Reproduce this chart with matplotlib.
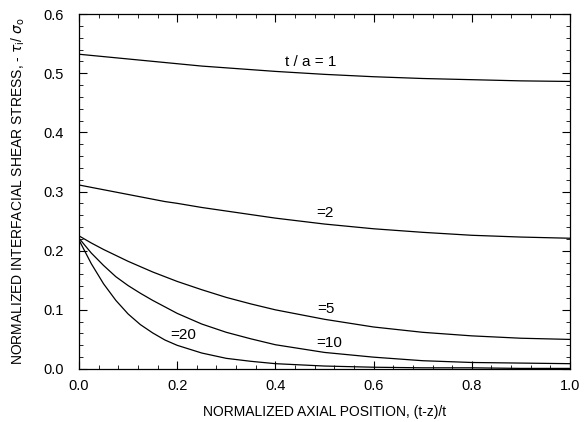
import matplotlib
matplotlib.use("Agg")
import matplotlib.pyplot as plt
from matplotlib.ticker import MultipleLocator, FormatStrFormatter

plt.rcParams['font.family'] = ['Liberation Sans', 'DejaVu Sans']

# axial position (t-z)/t
pos = [0, 0.025, 0.05, 0.075, 0.1, 0.125, 0.15, 0.175, 0.2, 0.25, 0.3, 0.35, 0.4, 0.5, 0.6, 0.7, 0.8, 0.9, 1.0]

# normalized interfacial shear stress for each t/a
stress_1 = [0.532, 0.530, 0.528, 0.526, 0.524, 0.522, 0.520, 0.518, 0.516, 0.512, 0.509, 0.506, 0.503, 0.498, 0.494, 0.491, 0.489, 0.487, 0.486]
stress_2 = [0.311, 0.307, 0.303, 0.299, 0.295, 0.291, 0.287, 0.283, 0.280, 0.273, 0.267, 0.261, 0.255, 0.245, 0.237, 0.231, 0.226, 0.223, 0.221]
stress_5 = [0.225, 0.213, 0.202, 0.192, 0.182, 0.173, 0.164, 0.156, 0.148, 0.134, 0.121, 0.110, 0.100, 0.084, 0.071, 0.062, 0.056, 0.052, 0.050]
stress_10 = [0.221, 0.196, 0.175, 0.156, 0.141, 0.128, 0.116, 0.105, 0.094, 0.076, 0.062, 0.051, 0.041, 0.028, 0.020, 0.014, 0.011, 0.010, 0.009]
stress_20 = [0.218, 0.178, 0.144, 0.116, 0.093, 0.075, 0.061, 0.049, 0.040, 0.027, 0.018, 0.013, 0.009, 0.005, 0.003, 0.002, 0.002, 0.001, 0.001]

curves = [stress_1, stress_2, stress_5, stress_10, stress_20]
labels = ['t / a = 1', '=2', '=5', '=10', '=20']
label_xy = [(0.472, 0.519), (0.50, 0.264), (0.502, 0.101), (0.51, 0.044), (0.212, 0.057)]

fig = plt.figure(figsize=(5.87, 4.22), dpi=100)
ax = fig.add_axes([0.1346, 0.1256, 0.8364, 0.8412])

for vals in curves:
    ax.plot(pos, vals, color='black', lw=0.9)

for text, (lx, ly) in zip(labels, label_xy):
    ax.text(lx, ly, text, fontsize=11, ha='center', va='center')

ax.set_xlim(0, 1.0)
ax.set_ylim(0, 0.6)
ax.xaxis.set_major_locator(MultipleLocator(0.2))
ax.xaxis.set_minor_locator(MultipleLocator(0.04))
ax.yaxis.set_major_locator(MultipleLocator(0.1))
ax.yaxis.set_minor_locator(MultipleLocator(0.02))
ax.xaxis.set_major_formatter(FormatStrFormatter('%.1f'))
ax.yaxis.set_major_formatter(FormatStrFormatter('%.1f'))
ax.tick_params(which='both', direction='in', top=True, right=True, labelsize=10.5)
ax.tick_params(which='major', length=6, width=0.8)
ax.tick_params(which='minor', length=3, width=0.6)
ax.tick_params(axis='x', pad=7)
ax.tick_params(axis='y', pad=11)
for s in ax.spines.values():
    s.set_linewidth(0.9)

ax.set_xlabel('NORMALIZED AXIAL POSITION, (t-z)/t', fontsize=10, labelpad=9)
ax.set_ylabel(r'NORMALIZED INTERFACIAL SHEAR STRESS, - $\tau_{\rm i}$/ $\sigma_{\rm o}$', fontsize=10, labelpad=12)

fig.savefig('out.png', dpi=100)
